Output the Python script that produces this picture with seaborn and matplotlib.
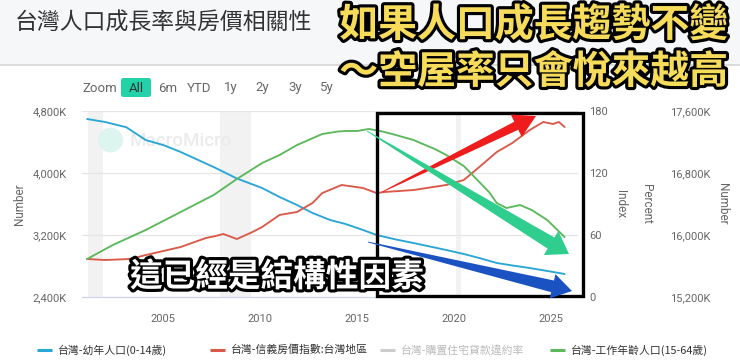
import numpy as np
import pandas as pd
import matplotlib
matplotlib.use("Agg")
import matplotlib.pyplot as plt
import matplotlib.transforms as mtransforms
import seaborn as sns
from matplotlib.patches import Rectangle, Polygon, Circle, FancyBboxPatch
from matplotlib.lines import Line2D
import matplotlib.patheffects as pe

# ---------------- data ----------------
child_years = [2001.07, 2002.0, 2003.1, 2004.1, 2005.0, 2005.9, 2006.8, 2007.6, 2008.8,
               2010.1, 2011.0, 2011.9, 2012.7, 2013.6, 2014.4, 2015.3, 2016.0, 2017.0,
               2017.9, 2019.6, 2020.5, 2021.3, 2022.2, 2023.0, 2023.9, 2024.8, 2025.7]
child_pop = [4697, 4658, 4590, 4425, 4361, 4271, 4168, 4077, 3929,
             3806, 3690, 3587, 3484, 3394, 3342, 3265, 3200, 3142,
             3097, 3006, 2955, 2903, 2839, 2807, 2774, 2736, 2697]

price_years = [2001.07, 2002.0, 2003.3, 2004.1, 2005.0, 2005.9, 2007.2, 2007.7, 2008.1,
               2008.8, 2009.6, 2010.1, 2011.0, 2011.9, 2012.7, 2013.2, 2014.2, 2015.3,
               2016.0, 2016.4, 2017.9, 2019.6, 2020.5, 2021.3, 2022.2, 2023.0, 2023.9,
               2024.6, 2025.1, 2025.4, 2025.7]
price_index = [36.8, 35.8, 36.8, 40.6, 44.5, 48.4, 57.1, 59.0, 61.0,
               56.1, 62.9, 67.7, 79.4, 82.3, 91.0, 100.6, 108.4, 105.5,
               100.6, 101.6, 103.5, 108.4, 113.2, 125.8, 140.3, 149.0, 161.6,
               169.4, 167.4, 169.4, 164.5]

work_years = [2001.07, 2002.4, 2004.1, 2005.9, 2007.6, 2008.8, 2010.1, 2011.0, 2011.9,
              2013.2, 2014.0, 2014.4, 2015.0, 2015.6, 2016.2, 2017.0, 2017.9, 2019.0,
              2019.6, 2020.5, 2021.3, 2021.8, 2022.2, 2022.7, 2023.4, 2024.0, 2024.8, 2025.7]
work_pop = [15690, 15871, 16065, 16297, 16516, 16723, 16929, 17032, 17161,
            17303, 17335, 17342, 17342, 17368, 17342, 17290, 17226, 17110,
            17032, 16890, 16684, 16555, 16413, 16348, 16387, 16323, 16194, 15974]

recessions = [(2001.1, 2001.9), (2007.92, 2009.55), (2020.1, 2020.35)]

x_ticks = [2005, 2010, 2015, 2020, 2025]
left_ticks = [2400, 3200, 4000, 4800]
left_labels = ["2,400K", "3,200K", "4,000K", "4,800K"]
index_ticks = [0, 60, 120, 180]
right_ticks = [15200, 16000, 16800, 17600]
right_labels = ["15,200K", "16,000K", "16,800K", "17,600K"]

legend_labels = ["台灣-幼年人口(0-14歲)", "台灣-信義房價指數:台灣地區",
                 "台灣-購置住宅貸款違約率", "台灣-工作年齡人口(15-64歲)"]
zoom_buttons = ["6m", "YTD", "1y", "2y", "3y", "5y"]

title = "台灣人口成長率與房價相關性"
caption1 = "如果人口成長趨勢不變"
caption2 = "～空屋率只會悅來越高"
caption3 = "這已經是結構性因素"

C_BLUE = "#2aa6d6"
C_RED = "#d9594a"
C_GREEN = "#5cb85c"
C_GRAY_LEG = "#cccccc"
TXT = "#666666"

# ---------------- figure ----------------
sns.set_style("white")
plt.rcParams['font.family'] = ['Roboto', 'Noto Sans CJK TC', 'DejaVu Sans']
W, H = 740, 361
fig = plt.figure(figsize=(W / 100, H / 100), dpi=100)
fig.patch.set_facecolor("white")
PIX = mtransforms.Affine2D().scale(1, -1).translate(0, H)  # top-left pixel coords

L, R, T, B = 82, 578, 111, 297
ax = fig.add_axes([L / W, 1 - B / H, (R - L) / W, (B - T) / H])
ax.set_facecolor("none")
ax.set_xlim(2000.81, 2026.39)
ax.set_ylim(2400, 4800)

for a, b in recessions:
    ax.axvspan(a, b, color="#f2f2f2", lw=0, zorder=0)
for v in left_ticks[1:]:
    ax.axhline(v, color="#e6e6e6", lw=0.9, zorder=0.5)

# watermark (above bands, below lines)
ax.add_patch(Circle((110.5, 140), 12.5, color="#dcf5ef", lw=0, transform=PIX,
                    zorder=0.8))
ax.text(130, 141, "MacroMicro", fontsize=13.5, color="#ebebeb", va="center",
        ha="left", fontweight="medium", transform=PIX, zorder=0.8)

sns.lineplot(x=child_years, y=child_pop, ax=ax, color=C_BLUE, linewidth=1.35)
ax.set_yticks(left_ticks)
ax.set_yticklabels(left_labels)
ax.set_xticks(x_ticks)
ax.set_xticklabels([str(t) for t in x_ticks])
ax.tick_params(axis="y", length=0, pad=11, labelsize=8, labelcolor=TXT)
ax.tick_params(axis="x", length=4.5, width=0.8, color="#ccd6eb", pad=8,
               labelsize=8, labelcolor=TXT)
for s in ["top", "right", "left"]:
    ax.spines[s].set_visible(False)
ax.spines["bottom"].set_color("#ccd6eb")
ax.spines["bottom"].set_linewidth(0.9)
ax.set_xlabel("")
ax.set_ylabel("")

ax2 = ax.twinx()
ax2.set_ylim(0, 180)
sns.lineplot(x=price_years, y=price_index, ax=ax2, color=C_RED, linewidth=1.35)
ax2.set_yticks(index_ticks)
ax2.tick_params(axis="y", length=0, pad=8, labelsize=8, labelcolor=TXT)
ax2.set_ylabel("")

ax3 = ax.twinx()
ax3.set_ylim(15200, 17600)
sns.lineplot(x=work_years, y=work_pop, ax=ax3, color=C_GREEN, linewidth=1.35)
ax3.set_yticks(right_ticks)
ax3.set_yticklabels(right_labels)
ax3.tick_params(axis="y", length=0, pad=66, labelsize=8, labelcolor=TXT)
ax3.set_ylabel("")
for a in (ax2, ax3):
    for s in a.spines.values():
        s.set_visible(False)
    a.set_xlim(ax.get_xlim())

# ---------------- overlay (pixel coords) ----------------
ov = fig.add_axes([0, 0, 1, 1], zorder=10)
ov.set_xlim(0, W)
ov.set_ylim(H, 0)
ov.axis("off")
ov.patch.set_alpha(0)

bg = fig.add_axes([0, 0, 1, 1], zorder=-5)
bg.set_xlim(0, W)
bg.set_ylim(H, 0)
bg.axis("off")
bg.add_patch(Rectangle((0, 0), W, 65, color="#f6f7f9", lw=0))
bg.plot([0, W], [65, 65], color="#d6d6d6", lw=1.2)

# axis titles
fig.text(20 / W, 1 - 204 / H, "Number", rotation=90, ha="center", va="center",
         fontsize=8.5, color=TXT)
fig.text(620 / W, 1 - 204 / H, "Index", rotation=270, ha="center", va="center",
         fontsize=8.5, color=TXT)
fig.text(646 / W, 1 - 204 / H, "Percent", rotation=270, ha="center", va="center",
         fontsize=8.5, color=TXT)
fig.text(723 / W, 1 - 204 / H, "Number", rotation=270, ha="center", va="center",
         fontsize=8.5, color=TXT)

# title
ov.text(15, 23, title, fontsize=16.5, color="#333333", ha="left", va="center",
        family=["Noto Sans CJK TC", "DejaVu Sans"])

# zoom toolbar
ov.text(82, 88, "Zoom", fontsize=9.5, color=TXT, ha="left", va="center")
ov.add_patch(FancyBboxPatch((121, 78), 30, 19, boxstyle="round,pad=0,rounding_size=2.5",
                            color="#22d3aa", lw=0))
ov.text(136, 88, "All", fontsize=9.5, color="#333333", ha="center", va="center")
for lbl, xc in zip(zoom_buttons, [167.5, 199, 230.5, 262.5, 295, 326.5]):
    ov.text(xc, 88, lbl, fontsize=9.5, color=TXT, ha="center", va="center")

# legend (manual layout)
leg_colors = [C_BLUE, C_RED, C_GRAY_LEG, C_GREEN]
leg_key_x = [37, 210, 380, 550]
for lbl, col, kx in zip(legend_labels, leg_colors, leg_key_x):
    ov.add_line(Line2D([kx, kx + 15], [350, 350], color=col, lw=2.2,
                       solid_capstyle="butt"))
    tcol = "#bbbbbb" if col == C_GRAY_LEG else "#333333"
    ov.text(kx + 21, 350, lbl, fontsize=7.8, color=tcol, ha="left", va="center",
            family=["Noto Sans CJK TC", "DejaVu Sans"])

# black box
ov.add_patch(Rectangle((377, 113), 206, 183, fill=False, ec="black", lw=2.4))


def arrow_poly(tail, tip, shaft_w, head_w, head_len):
    t = np.array(tail, float)
    p = np.array(tip, float)
    d = p - t
    u = d / np.linalg.norm(d)
    n = np.array([-u[1], u[0]])
    base = p - u * head_len
    return [t + n * 0.4, base + n * shaft_w / 2, base + n * head_w / 2, p,
            base - n * head_w / 2, base - n * shaft_w / 2, t - n * 0.4]


ov.add_patch(Polygon(arrow_poly((382, 192), (536, 116), 9, 25, 22),
                     closed=True, color="#ee1c1c", lw=0))
ov.add_patch(Polygon(arrow_poly((367, 131), (569, 254), 13, 28, 21),
                     closed=True, color="#2fce8e", lw=0))
ov.add_patch(Polygon(arrow_poly((368, 242), (572, 291), 12, 25, 20),
                     closed=True, color="#1a52c2", lw=0))

# captions
cap_family = ["Noto Sans CJK TC", "DejaVu Sans"]
ov.text(728, 25, caption1, fontsize=28, fontweight="black", color="#f6dc5a",
        ha="right", va="center", family=cap_family,
        path_effects=[pe.withStroke(linewidth=4.5, foreground="black")])
ov.text(728, 72, caption2, fontsize=28, fontweight="black", color="#f6dc5a",
        ha="right", va="center", family=cap_family,
        path_effects=[pe.withStroke(linewidth=4.5, foreground="black")])
ov.text(130, 277, caption3, fontsize=23.5, fontweight="bold", color="white",
        ha="left", va="center", family=cap_family,
        path_effects=[pe.withStroke(linewidth=4.5, foreground="black")])

fig.savefig("out.png", dpi=100)
